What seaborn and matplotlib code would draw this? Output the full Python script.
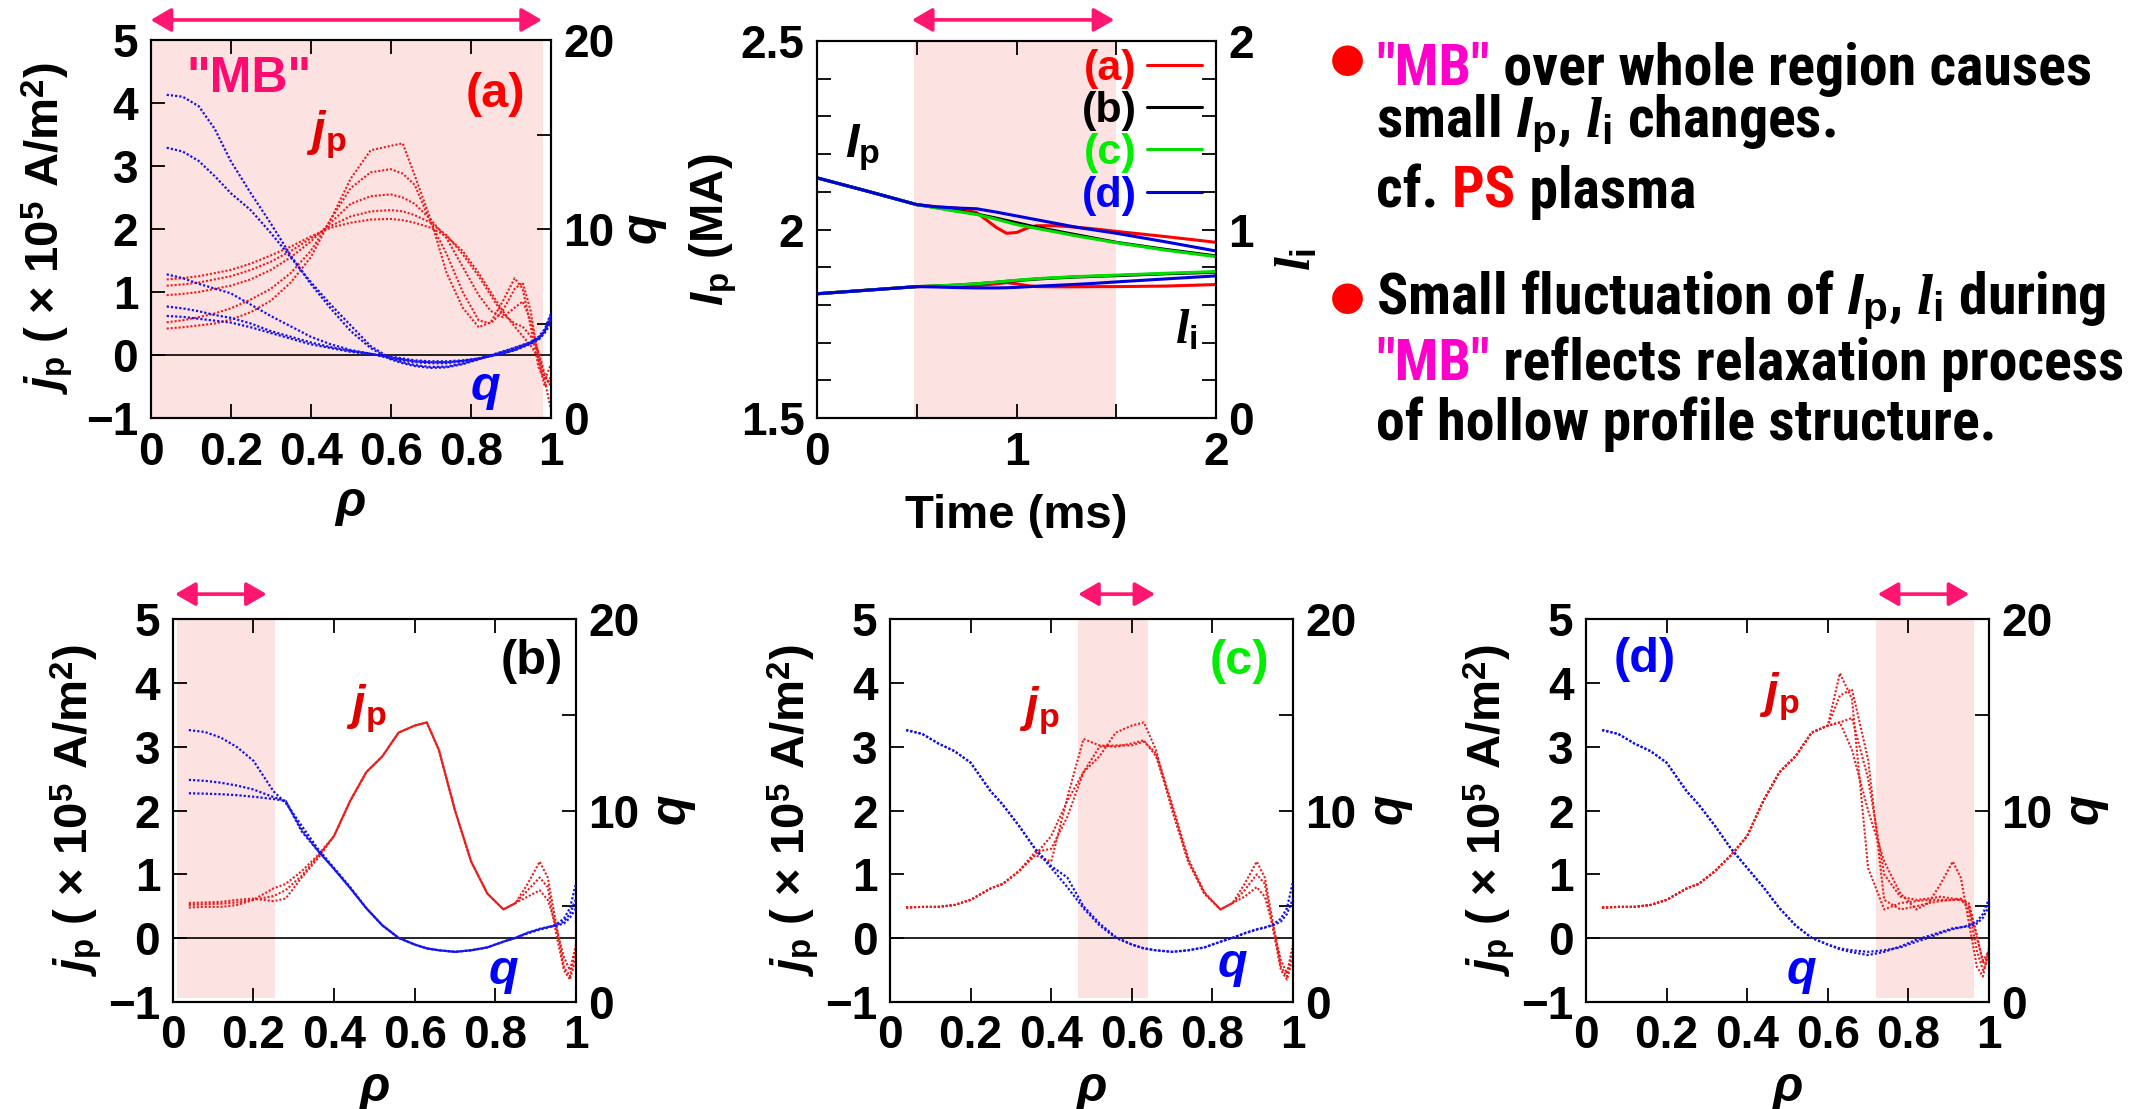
import matplotlib
matplotlib.use("Agg")
import matplotlib.pyplot as plt
import seaborn as sns
import numpy as np
import pandas as pd
from matplotlib.ticker import FixedLocator
from matplotlib import font_manager
from matplotlib.font_manager import FontProperties

# ------------------------------------------------------------------ data
# panel (a): profiles during "MB" over the whole region
rho_a = [0.04, 0.08, 0.12, 0.16, 0.20, 0.25, 0.30, 0.35, 0.40, 0.45, 0.50, 0.55, 0.60, 0.63,
         0.66, 0.70, 0.74, 0.78, 0.82, 0.85, 0.88, 0.91, 0.93, 0.95, 0.97, 0.985, 1.00]
jp_a1 = [0.42, 0.44, 0.47, 0.50, 0.56, 0.68, 0.86, 1.15, 1.55, 2.15, 2.80, 3.25, 3.32, 3.36,
         2.85, 2.15, 1.30, 0.75, 0.44, 0.52, 0.85, 1.22, 1.05, 0.45, -0.20, -0.40, -0.15]
jp_a2 = [0.52, 0.55, 0.60, 0.66, 0.74, 0.88, 1.05, 1.30, 1.65, 2.15, 2.65, 2.90, 2.95, 2.88,
         2.70, 2.10, 1.60, 1.00, 0.55, 0.50, 0.70, 1.05, 1.15, 0.70, -0.10, -0.50, -0.35]
jp_a3 = [0.95, 0.97, 1.00, 1.05, 1.10, 1.20, 1.35, 1.55, 1.80, 2.10, 2.40, 2.52, 2.55, 2.50,
         2.40, 2.15, 1.85, 1.40, 0.95, 0.70, 0.60, 0.75, 0.85, 0.55, 0.00, -0.35, -0.45]
jp_a4 = [1.10, 1.12, 1.15, 1.20, 1.25, 1.35, 1.48, 1.65, 1.85, 2.05, 2.20, 2.28, 2.30, 2.28,
         2.22, 2.10, 1.90, 1.60, 1.25, 0.95, 0.65, 0.50, 0.45, 0.30, 0.05, -0.30, -0.50]
jp_a5 = [1.20, 1.22, 1.25, 1.30, 1.35, 1.45, 1.58, 1.72, 1.88, 2.02, 2.10, 2.15, 2.16, 2.14,
         2.10, 2.02, 1.88, 1.65, 1.30, 1.00, 0.70, 0.45, 0.30, 0.15, -0.05, -0.40, -0.85]
q_a1 = [17.1, 17.0, 16.5, 15.3, 13.6, 11.9, 10.3, 8.6, 7.1, 5.8, 4.6, 3.7, 3.1, 2.9,
        2.75, 2.65, 2.68, 2.85, 3.10, 3.30, 3.50, 3.70, 3.85, 4.00, 4.25, 4.60, 5.30]
q_a2 = [14.3, 14.1, 13.6, 12.8, 11.9, 11.0, 9.8, 8.5, 7.2, 6.0, 4.9, 3.8, 3.15, 2.95,
        2.80, 2.70, 2.72, 2.88, 3.12, 3.32, 3.52, 3.72, 3.87, 4.02, 4.30, 4.70, 5.50]
q_a3 = [7.6, 7.4, 7.1, 6.85, 6.6, 6.0, 5.4, 4.85, 4.3, 3.9, 3.6, 3.4, 3.15, 3.05,
        2.95, 2.90, 2.90, 3.00, 3.15, 3.30, 3.45, 3.62, 3.80, 3.95, 4.20, 4.55, 5.20]
q_a4 = [5.9, 5.8, 5.65, 5.45, 5.3, 5.0, 4.6, 4.3, 4.0, 3.75, 3.55, 3.4, 3.2, 3.1,
        3.0, 2.95, 2.95, 3.02, 3.15, 3.28, 3.42, 3.60, 3.78, 3.95, 4.20, 4.60, 5.40]
q_a5 = [5.4, 5.35, 5.25, 5.15, 5.05, 4.8, 4.5, 4.2, 3.9, 3.7, 3.5, 3.38, 3.25, 3.15,
        3.05, 3.0, 3.0, 3.05, 3.15, 3.27, 3.40, 3.58, 3.75, 3.92, 4.15, 4.50, 5.00]

# panels (b)-(d): profiles with local "MB"
rho_b = [0.04, 0.08, 0.12, 0.16, 0.20, 0.25, 0.28, 0.32, 0.36, 0.40, 0.44, 0.48, 0.52, 0.56, 0.60,
         0.63, 0.66, 0.70, 0.74, 0.78, 0.82, 0.85, 0.88, 0.91, 0.93, 0.95, 0.97, 0.985, 1.00]
jp_base = [0.48, 0.49, 0.49, 0.52, 0.60, 0.78, 0.85, 1.05, 1.30, 1.60, 2.15, 2.60, 2.85, 3.22, 3.33,
           3.38, 2.95, 2.00, 1.20, 0.70, 0.45, 0.55, 0.85, 1.20, 0.95, 0.25, -0.45, -0.60, -0.15]
q_base = [14.2, 14.0, 13.5, 13.1, 12.5, 11.0, 10.3, 9.2, 8.0, 7.0, 6.0, 4.9, 4.0, 3.35, 3.0,
          2.8, 2.7, 2.62, 2.7, 2.85, 3.15, 3.35, 3.6, 3.8, 3.9, 4.0, 4.2, 4.6, 5.4]

jp_b2 = [0.55, 0.56, 0.57, 0.60, 0.62, 0.58, 0.62, 0.95, 1.25, 1.60, 2.15, 2.60, 2.85, 3.22, 3.33,
         3.38, 2.95, 2.00, 1.20, 0.70, 0.45, 0.55, 0.75, 0.95, 0.80, 0.10, -0.50, -0.65, -0.30]
jp_b3 = [0.52, 0.53, 0.54, 0.56, 0.60, 0.66, 0.75, 0.98, 1.28, 1.60, 2.15, 2.60, 2.85, 3.22, 3.33,
         3.38, 2.95, 2.00, 1.20, 0.70, 0.45, 0.55, 0.65, 0.75, 0.60, 0.20, -0.30, -0.50, -0.10]
q_b1 = [14.2, 14.1, 13.8, 13.3, 12.6, 11.0, 10.4, 9.2, 8.0, 7.0, 6.0, 4.9, 4.0, 3.35, 3.0,
        2.8, 2.7, 2.62, 2.7, 2.85, 3.15, 3.35, 3.6, 3.8, 3.9, 4.0, 4.2, 4.6, 5.4]
q_b2 = [11.6, 11.55, 11.45, 11.3, 11.1, 10.7, 10.5, 9.0, 7.9, 6.95, 5.95, 4.9, 4.0, 3.35, 3.0,
        2.8, 2.7, 2.62, 2.7, 2.85, 3.15, 3.35, 3.58, 3.78, 3.88, 4.05, 4.35, 4.9, 6.2]
q_b3 = [10.9, 10.88, 10.85, 10.8, 10.72, 10.6, 10.5, 8.9, 7.9, 6.95, 5.95, 4.9, 4.0, 3.35, 3.0,
        2.8, 2.7, 2.62, 2.7, 2.85, 3.15, 3.35, 3.62, 3.82, 3.92, 3.98, 4.1, 4.4, 4.9]

jp_c2 = [0.48, 0.49, 0.49, 0.52, 0.60, 0.78, 0.85, 1.05, 1.30, 1.20, 2.20, 3.12, 3.02, 3.00, 3.05,
         3.10, 2.85, 2.05, 1.20, 0.70, 0.45, 0.55, 0.75, 1.00, 0.85, 0.15, -0.50, -0.65, -0.30]
jp_c3 = [0.48, 0.49, 0.49, 0.52, 0.60, 0.78, 0.85, 1.05, 1.35, 1.40, 1.90, 2.60, 3.00, 3.02, 3.02,
         3.08, 2.90, 2.10, 1.25, 0.72, 0.45, 0.55, 0.65, 0.80, 0.65, 0.20, -0.35, -0.55, -0.10]
q_c2 = [14.2, 14.0, 13.5, 13.1, 12.5, 11.0, 10.3, 9.2, 8.0, 7.1, 6.5, 5.0, 4.1, 3.4, 3.0,
        2.8, 2.7, 2.62, 2.7, 2.85, 3.15, 3.35, 3.58, 3.78, 3.88, 4.05, 4.35, 4.9, 6.3]

jp_d2 = [0.48, 0.49, 0.49, 0.52, 0.60, 0.78, 0.85, 1.05, 1.30, 1.60, 2.15, 2.60, 2.85, 3.22, 3.33,
         4.15, 3.75, 1.10, 0.45, 0.55, 0.58, 0.60, 0.60, 0.60, 0.60, 0.55, 0.05, -0.40, -0.25]
jp_d3 = [0.48, 0.49, 0.49, 0.52, 0.60, 0.78, 0.85, 1.05, 1.30, 1.60, 2.15, 2.60, 2.85, 3.22, 3.33,
         3.38, 3.45, 2.50, 1.00, 0.65, 0.60, 0.62, 0.65, 0.62, 0.60, 0.50, 0.00, -0.35, -0.20]
jp_d4 = [0.48, 0.49, 0.49, 0.52, 0.60, 0.78, 0.85, 1.05, 1.30, 1.60, 2.15, 2.60, 2.85, 3.22, 3.33,
         3.80, 3.90, 2.80, 0.60, 0.45, 0.50, 0.55, 0.58, 0.60, 0.62, 0.45, -0.20, -0.50, -0.30]
q_d2 = [14.2, 14.0, 13.5, 13.1, 12.5, 11.0, 10.3, 9.2, 8.0, 7.0, 6.0, 4.9, 4.0, 3.35, 3.0,
        2.75, 2.6, 2.45, 2.62, 2.9, 3.25, 3.45, 3.65, 3.85, 3.9, 3.95, 4.1, 4.4, 5.0]

# time traces (middle panel)
time_ms = [0, 0.25, 0.5, 0.6, 0.7, 0.8, 0.9, 0.95, 1.0, 1.05, 1.1, 1.2, 1.3, 1.4, 1.5, 1.75, 2.0]
ip_a = [2.137, 2.102, 2.066, 2.060, 2.057, 2.045, 2.005, 1.990, 1.992, 2.003, 2.010, 2.010, 2.006, 2.001, 1.995, 1.981, 1.966]
ip_b = [2.137, 2.102, 2.066, 2.058, 2.050, 2.041, 2.030, 2.024, 2.018, 2.012, 2.006, 1.996, 1.986, 1.976, 1.966, 1.947, 1.930]
ip_c = [2.137, 2.102, 2.066, 2.057, 2.048, 2.040, 2.027, 2.020, 2.013, 2.008, 2.003, 1.993, 1.983, 1.974, 1.965, 1.945, 1.928]
ip_d = [2.137, 2.102, 2.066, 2.060, 2.057, 2.055, 2.046, 2.041, 2.036, 2.031, 2.026, 2.016, 2.006, 1.998, 1.990, 1.967, 1.943]
li_a = [0.659, 0.678, 0.697, 0.699, 0.700, 0.702, 0.712, 0.718, 0.712, 0.703, 0.697, 0.696, 0.696, 0.697, 0.697, 0.700, 0.708]
li_b = [0.659, 0.678, 0.697, 0.700, 0.705, 0.712, 0.720, 0.725, 0.729, 0.733, 0.737, 0.743, 0.748, 0.752, 0.755, 0.765, 0.773]
li_c = [0.659, 0.678, 0.697, 0.701, 0.706, 0.712, 0.721, 0.726, 0.731, 0.735, 0.739, 0.745, 0.750, 0.754, 0.758, 0.768, 0.777]
li_d = [0.659, 0.678, 0.697, 0.695, 0.692, 0.690, 0.690, 0.691, 0.693, 0.696, 0.699, 0.704, 0.709, 0.715, 0.722, 0.738, 0.754]
case_labels = ["(a)", "(b)", "(c)", "(d)"]

# "MB" regions (shaded) and arrows
mb_span = {"a": (0.0, 0.98), "b": (0.011, 0.254), "c": (0.467, 0.641), "d": (0.719, 0.963), "t": (0.487, 1.50)}
mb_arrow = {"a": (0.0, 0.978), "b": (0.006, 0.233), "c": (0.467, 0.658), "d": (0.724, 0.951), "t": (0.476, 1.49)}

# ------------------------------------------------------------------ style
sns.set_theme(style="ticks")
plt.rcParams.update({
    "font.family": ["Liberation Sans", "DejaVu Sans"],
    "font.weight": "bold",
    "axes.labelweight": "bold",
    "text.color": "black",
    "axes.labelcolor": "black",
    "xtick.color": "black",
    "ytick.color": "black",
    "axes.edgecolor": "black",
    "axes.linewidth": 1.5,
    "mathtext.fontset": "custom",
    "mathtext.rm": "Liberation Sans:bold",
    "mathtext.bf": "Liberation Sans:bold",
    "mathtext.sf": "Liberation Sans:italic:bold",
    "mathtext.it": "Liberation Serif:italic:bold",
})

RED = "#EE1A1A"
BLUE = "#1212EE"
PINK = "#FDE2E2"
ARROW_C = "#FF1670"
MB_C = "#FF0A6E"
MAG = "#FF00CC"
TICK = 33
LBL = 34
TAG = 35
DOT = (0, (1.0, 0.9))
W, H = 2134, 1109

fig = plt.figure(figsize=(W / 100, H / 100), dpi=100)


def axes_px(l, t, r, b):
    return fig.add_axes([l / W, 1 - b / H, (r - l) / W, (b - t) / H])


def draw_arrow(ax, xs, y_ax):
    ax.annotate("", xy=(xs[1], y_ax), xytext=(xs[0], y_ax),
                xycoords=ax.get_xaxis_transform(), textcoords=ax.get_xaxis_transform(),
                arrowprops=dict(arrowstyle="<|-|>,head_length=0.62,head_width=0.36",
                                color=ARROW_C, lw=2.6, shrinkA=0, shrinkB=0, mutation_scale=20),
                annotation_clip=False)


JP_LABEL = r"$\mathsf{j}_\mathrm{p}$ ( × 10$^\mathrm{5}$ A/m$^\mathrm{2}$)"


def profile(ax, rho, jp_list, q_list, key, span_ymin, arrow_y, ylab_x, qlab_x):
    s = mb_span[key]
    ax.axvspan(s[0], s[1], ymin=span_ymin, ymax=1, color=PINK, lw=0, zorder=0)
    ax.axhline(0, color="black", lw=1.2, zorder=1)
    for y in jp_list:
        sns.lineplot(x=rho, y=y, ax=ax, color=RED, lw=1.5, ls=DOT, sort=False,
                     legend=False, zorder=3)
    axq = ax.twinx()
    for y in q_list:
        sns.lineplot(x=rho, y=y, ax=axq, color=BLUE, lw=1.6, ls=DOT, sort=False,
                     legend=False, zorder=3)
    ax.set_xlim(0, 1)
    ax.set_ylim(-1, 5)
    ax.set_xticks([0, 0.2, 0.4, 0.6, 0.8, 1.0])
    ax.set_xticklabels(["0", "0.2", "0.4", "0.6", "0.8", "1"])
    ax.set_yticks([-1, 0, 1, 2, 3, 4, 5])
    ax.set_yticklabels(["\u22121", "0", "1", "2", "3", "4", "5"])
    axq.set_ylim(0, 20)
    axq.set_yticks([0, 10, 20])
    axq.set_yticklabels(["0", "10", "20"])
    axq.yaxis.set_minor_locator(FixedLocator([5, 15]))
    ax.tick_params(axis="both", which="both", direction="in", length=10, width=1.3,
                   labelsize=TICK, top=True, right=False, pad=9)
    axq.tick_params(axis="y", which="both", direction="in", length=10, width=1.3,
                    labelsize=TICK, right=True, left=False, pad=9)
    ax.set_xlabel("ρ", fontsize=36, fontstyle="italic")
    ax.xaxis.set_label_coords(0.5, -0.225)
    ax.xaxis.label.set_va("center")
    ax.set_ylabel(JP_LABEL, fontsize=LBL)
    ax.yaxis.set_label_coords(ylab_x, 0.5)
    ax.yaxis.label.set_va("center")
    axq.set_ylabel(r"$\mathsf{q}$", fontsize=36, rotation=90)
    axq.yaxis.set_label_coords(qlab_x, 0.5)
    axq.yaxis.label.set_va("center")
    axq.yaxis.label.set_ha("center")
    for sp in list(ax.spines.values()) + list(axq.spines.values()):
        sp.set_linewidth(1.5)
        sp.set_color("black")
    draw_arrow(ax, mb_arrow[key], arrow_y)
    return axq


# ---------------- panel (a)
ax_a = axes_px(150.7, 40, 550.7, 418)
profile(ax_a, rho_a, [jp_a1, jp_a2, jp_a3, jp_a4, jp_a5], [q_a1, q_a2, q_a3, q_a4, q_a5],
        "a", 0.0, 1.053, -0.258, 1.238)
ax_a.text(0.245, 4.38, '"MB"', color=MB_C, fontsize=36, ha="center", va="center")
ax_a.text(0.862, 4.13, "(a)", color="#FF0000", fontsize=TAG, ha="center", va="center")
ax_a.text(0.44, 3.5, r"$\mathsf{j}_\mathrm{p}$", color="#E00000", fontsize=TAG, ha="center", va="center")
ax_a.text(0.836, -0.54, r"$\mathsf{q}$", color="#0000FF", fontsize=TAG, ha="center", va="center")

# ---------------- panels (b), (c), (d)
ax_b = axes_px(172.7, 619, 576, 1002)
profile(ax_b, rho_b, [jp_base, jp_b2, jp_b3], [q_b1, q_b2, q_b3], "b", 0.01, 1.065, -0.24, 1.245)
ax_b.text(0.89, 4.33, "(b)", color="black", fontsize=TAG, ha="center", va="center")
ax_b.text(0.48, 3.6, r"$\mathsf{j}_\mathrm{p}$", color="#E00000", fontsize=TAG, ha="center", va="center")
ax_b.text(0.82, -0.55, r"$\mathsf{q}$", color="#0000FF", fontsize=TAG, ha="center", va="center")

ax_c = axes_px(890, 619, 1293, 1002)
profile(ax_c, rho_b, [jp_base, jp_c2, jp_c3], [q_base, q_c2], "c", 0.01, 1.065, -0.24, 1.245)
ax_c.text(0.867, 4.33, "(c)", color="#00EE00", fontsize=TAG, ha="center", va="center")
ax_c.text(0.37, 3.56, r"$\mathsf{j}_\mathrm{p}$", color="#E00000", fontsize=TAG, ha="center", va="center")
ax_c.text(0.85, -0.44, r"$\mathsf{q}$", color="#0000FF", fontsize=TAG, ha="center", va="center")

ax_d = axes_px(1586, 619, 1989, 1002)
profile(ax_d, rho_b, [jp_base, jp_d2, jp_d3, jp_d4], [q_base, q_d2], "d", 0.01, 1.065, -0.24, 1.245)
ax_d.text(0.145, 4.36, "(d)", color="#0000FF", fontsize=TAG, ha="center", va="center")
ax_d.text(0.48, 3.78, r"$\mathsf{j}_\mathrm{p}$", color="#E00000", fontsize=TAG, ha="center", va="center")
ax_d.text(0.535, -0.55, r"$\mathsf{q}$", color="#0000FF", fontsize=TAG, ha="center", va="center")

# ---------------- middle panel: Ip and li time traces
ax_t = axes_px(817, 41, 1216, 418)
st = mb_span["t"]
ax_t.axvspan(st[0], st[1], color=PINK, lw=0, zorder=0)
line_cols = ["#FF0000", "#000000", "#00DD00", "#0000DD"]
text_cols = ["#FF0000", "#000000", "#00EE00", "#0000FF"]
for lab, col, ip in zip(case_labels, line_cols, [ip_a, ip_b, ip_c, ip_d]):
    sns.lineplot(x=time_ms, y=ip, ax=ax_t, color=col, lw=2.2, label=lab, sort=False)
ax_li = ax_t.twinx()
for col, li in zip(line_cols, [li_a, li_b, li_c, li_d]):
    sns.lineplot(x=time_ms, y=li, ax=ax_li, color=col, lw=2.2, sort=False, legend=False)
ax_t.set_xlim(0, 2)
ax_t.set_ylim(1.5, 2.5)
ax_li.set_ylim(0, 2)
ax_t.set_xticks([0, 1, 2])
ax_t.set_xticklabels(["0", "1", "2"])
ax_t.xaxis.set_minor_locator(FixedLocator([0.5, 1.5]))
ax_t.set_yticks([1.5, 2.0, 2.5])
ax_t.set_yticklabels(["1.5", "2", "2.5"])
ax_t.yaxis.set_minor_locator(FixedLocator([1.6, 1.7, 1.8, 1.9, 2.1, 2.2, 2.3, 2.4]))
ax_li.set_yticks([0, 1, 2])
ax_li.set_yticklabels(["0", "1", "2"])
ax_li.yaxis.set_minor_locator(FixedLocator([0.2, 0.4, 0.6, 0.8, 1.2, 1.4, 1.6, 1.8]))
ax_t.tick_params(axis="both", which="both", direction="in", length=10, width=1.3,
                 labelsize=TICK, top=True, right=False, pad=9)
ax_li.tick_params(axis="y", which="both", direction="in", length=10, width=1.3,
                  labelsize=TICK, right=True, left=False, pad=9)
for sp in list(ax_t.spines.values()) + list(ax_li.spines.values()):
    sp.set_linewidth(1.5)
    sp.set_color("black")
ax_t.set_xlabel("Time (ms)", fontsize=34)
ax_t.xaxis.set_label_coords(0.5, -0.26)
ax_t.xaxis.label.set_va("center")
ax_t.set_ylabel(r"$\mathsf{I}_\mathrm{p}$ (MA)", fontsize=34)
ax_t.yaxis.set_label_coords(-0.26, 0.5)
ax_t.yaxis.label.set_va("center")
ax_li.set_ylabel(r"$\mathit{l}_\mathrm{i}$", fontsize=36, rotation=90)
ax_li.yaxis.set_label_coords(1.203, 0.42)
ax_li.yaxis.label.set_va("center")
ax_li.yaxis.label.set_ha("center")
ax_t.text(0.23, 2.218, r"$\mathsf{I}_\mathrm{p}$", fontsize=TAG, ha="center", va="center")
ax_t.text(1.85, 1.73, r"$\mathit{l}_\mathrm{i}$", fontsize=TAG, ha="center", va="center")

# legend built from exactly the four Ip lines
old = ax_t.get_legend()
if old is not None:
    old.remove()
ip_lines = [ln for ln in ax_t.get_lines() if ln.get_label() in case_labels]
leg = ax_t.legend(ip_lines, [ln.get_label() for ln in ip_lines],
                  loc="upper right", bbox_to_anchor=(0.96, 0.985), frameon=False, fontsize=31,
                  markerfirst=False, handlelength=1.28, handletextpad=0.23, labelspacing=0.05,
                  borderaxespad=0, borderpad=0.0, labelcolor=text_cols)
draw_arrow(ax_t, mb_arrow["t"], 1.056)

# ---------------- right text block
# prefer a condensed bold face (the original is a narrow sans) when one is installed
cond_file = None
prefer = ["Liberation Sans Narrow", "Arial Narrow", "Roboto Condensed", "Open Sans Condensed",
          "Noto Sans", "DejaVu Sans", "Roboto", "Open Sans"]
cands = []
for f in font_manager.fontManager.ttflist:
    narrow = ("Narrow" in f.name or "Condensed" in f.name or
              str(f.stretch) in ("condensed", "semi-condensed", "extra-condensed", "ultra-condensed")
              or (isinstance(f.stretch, (int, float)) and f.stretch < 500))
    w = f.weight if isinstance(f.weight, (int, float)) else {"bold": 700, "semibold": 600,
                                                             "extra bold": 800, "black": 900}.get(str(f.weight), 400)
    if narrow and w >= 600 and f.style == "normal":
        base = next((i for i, p in enumerate(prefer) if f.name.startswith(p)), 99)
        cands.append((base, abs(w - 700), f.fname))
if cands:
    cands.sort()
    cond_file = cands[0][2]

renderer = fig.canvas.get_renderer()


def text_props(size):
    if cond_file:
        return dict(fontproperties=FontProperties(fname=cond_file, size=size))
    return dict(fontsize=size, family=["Liberation Sans", "DejaVu Sans"])


# fit the first line to the width it has in the original (~716 px)
probe = fig.text(0, 0, '"MB" over whole region causes', **text_props(30))
pw = probe.get_window_extent(renderer=renderer).width
probe.remove()
TXT_FS = min(46, 30 * 716 / pw)


def rich_line(x_px, base_px, pieces):
    x = x_px
    for txt, col in pieces:
        t = fig.text(x / W, 1 - base_px / H, txt, color=col, ha="left", va="baseline",
                     **text_props(TXT_FS))
        bb = t.get_window_extent(renderer=renderer)
        x = bb.x1


TX = 1376
for yb in (60, 298):
    fig.text(1347 / W, 1 - yb / H, "\u25CF", color="#FF0000", fontsize=29, family="DejaVu Sans",
             ha="center", va="center")
rich_line(TX, 85, [('"MB"', MAG), (" over whole region causes", "black")])
rich_line(TX, 137, [(r"small $\mathsf{I}_\mathrm{p}$, $\mathit{l}_\mathrm{i}$ changes.", "black")])
rich_line(TX, 208, [("cf. ", "black"), ("PS", "#FF0000"), (" plasma", "black")])
rich_line(TX, 314, [(r"Small fluctuation of $\mathsf{I}_\mathrm{p}$, $\mathit{l}_\mathrm{i}$ during", "black")])
rich_line(TX, 380, [('"MB"', MAG), (" reflects relaxation process", "black")])
rich_line(TX, 440, [("of hollow profile structure.", "black")])

# ---------------- pin the legend: first row centred ~70 px below the figure top,
# handle lines ending at ~1200 px (measured from the whole legend box)
fig.canvas.draw()
renderer = fig.canvas.get_renderer()
lbb = leg.get_window_extent(renderer)
axbb = ax_t.get_window_extent(renderer)
row_h = lbb.height / len(ip_lines)
cur_row1 = lbb.y1 - 0.5 * row_h
dy = (H - 70) - cur_row1
dx = 1202 - lbb.x1
leg.set_bbox_to_anchor((0.96 + dx / axbb.width, 0.985 + dy / axbb.height), transform=ax_t.transAxes)

fig.savefig("out.png", dpi=100)
